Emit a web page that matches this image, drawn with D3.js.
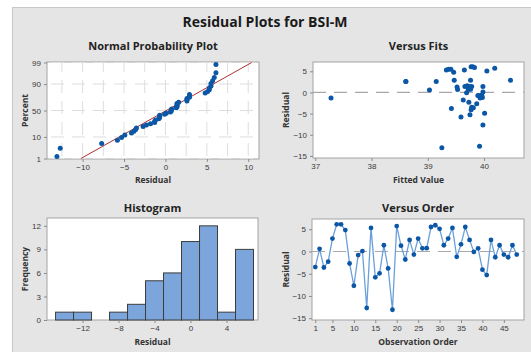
<!DOCTYPE html>
<html>
<head>
<meta charset="utf-8">
<script src="https://cdn.jsdelivr.net/npm/d3@7"></script>
<style>
body { margin: 0; background: #fff; }
svg { display: block; font-family: "Open Sans", sans-serif; }
.tick text { font-size: 8px; fill: #3a3a3a; }
.tick line { stroke: #8c8c8c; }
.ptitle { font-size: 11px; font-weight: 700; fill: #222; }
.alabel { font-size: 8.5px; font-weight: 700; fill: #333; }
</style>
</head>
<body>
<svg id="chart" width="531" height="352"></svg>
<script>
// residuals in observation order, and the fitted value of each observation
var residuals = [-3.5, 0.6, -3.6, -2.3, 2.9, 6.1, 6.1, 4.8, -2.7, -7.7, -0.8, 0.1,
   -12.7, 5.3, -5.8, -4.9, 1.4, -3.8, -13.1, 5.7, 1.3, -1.8, 2.6, -0.7,
   2.9, 0.7, 0.75, 5.5, 5.9, 5.1, 1.4, 2.9, 5.3, -1.2, 1.6, 5.5,
   2.6, -0.1, 0.7, -4.1, -5.3, 2.6, -1.3, 1.4, -0.7, -1.3, 1.4, -0.7];
var fitted = [39.78, 39.03, 39.81, 39.73, 39.76, 39.77, 39.80, 39.46, 39.87, 39.98, 39.91, 39.98,
   39.92, 39.65, 39.59, 40.01, 39.98, 39.42, 39.25, 40.19, 39.52, 39.63, 38.61, 39.94,
   39.47, 39.53, 39.76, 39.37, 39.83, 40.05, 39.66, 40.47, 39.33, 39.97, 39.70, 39.41,
   38.61, 39.69, 39.72, 39.77, 39.75, 39.15, 37.28, 39.78, 39.89, 39.93, 39.74, 39.96];

var normXTicks = [-10, -5, 0, 5, 10];
var normXGrid = [-12.5, -10, -7.5, -5, -2.5, 0, 2.5, 5, 7.5, 10];
var normPctTicks = [1, 10, 50, 90, 99];
var histEdges = [-15, -13, -11, -9, -7, -5, -3, -1, 1, 3, 5, 7];
var histXTicks = [-12, -8, -4, 0, 4];
var histYTicks = [0, 3, 6, 9, 12];
var fitXTicks = [37, 38, 39, 40];
var resTicks = [5, 0, -5, -10, -15];
var orderTicks = [1, 5, 10, 15, 20, 25, 30, 35, 40, 45];

var dotColor = "#0b57a6";

// inverse of the normal cdf (Acklam)
function probit(p) {
   var a = [-39.69683028665376, 220.9460984245205, -275.9285104469687, 138.357751867269, -30.66479806614716, 2.506628277459239];
   var b = [-54.47609879822406, 161.5858368580409, -155.6989798598866, 66.80131188771972, -13.28068155288572];
   var c = [-0.007784894002430293, -0.3223964580411365, -2.400758277161838, -2.549732539343734, 4.374664141464968, 2.938163982698783];
   var d = [0.007784695709041462, 0.3224671290700398, 2.445134137142996, 3.754408661907416];
   var q, r;
   if (p < 0.02425) {
      q = Math.sqrt(-2 * Math.log(p));
      return (((((c[0] * q + c[1]) * q + c[2]) * q + c[3]) * q + c[4]) * q + c[5]) /
         ((((d[0] * q + d[1]) * q + d[2]) * q + d[3]) * q + 1);
   }
   if (p > 1 - 0.02425) return -probit(1 - p);
   q = p - 0.5; r = q * q;
   return (((((a[0] * r + a[1]) * r + a[2]) * r + a[3]) * r + a[4]) * r + a[5]) * q /
      (((((b[0] * r + b[1]) * r + b[2]) * r + b[3]) * r + b[4]) * r + 1);
}

var svg = d3.select("#chart");

// gray backdrop
svg.append("rect")
   .attr("x", 12.5).attr("y", 7.5)
   .attr("width", 530).attr("height", 360)
   .attr("fill", "#e5e5e5").attr("stroke", "#c8c8c8");

svg.append("text")
   .attr("x", 265).attr("y", 27)
   .attr("text-anchor", "middle")
   .style("font-size", "14px").style("font-weight", 700).style("fill", "#1a1a1a")
   .text("Residual Plots for BSI-M");

function panel(x, y, title, xlab, ylab, titleY, xlabY, ylabX) {
   var r = x.range(), t = y.range();
   var g = svg.append("g");
   g.append("rect")
      .attr("x", r[0]).attr("y", t[1])
      .attr("width", r[1] - r[0]).attr("height", t[0] - t[1])
      .attr("fill", "#fff").attr("stroke", "#a3a3a3");
   g.append("text").attr("class", "ptitle")
      .attr("x", (r[0] + r[1]) / 2).attr("y", titleY)
      .attr("text-anchor", "middle").text(title);
   g.append("text").attr("class", "alabel")
      .attr("x", (r[0] + r[1]) / 2).attr("y", xlabY)
      .attr("text-anchor", "middle").text(xlab);
   g.append("text").attr("class", "alabel")
      .attr("transform", "translate(" + ylabX + "," + (t[0] + t[1]) / 2 + ") rotate(-90)")
      .attr("text-anchor", "middle").text(ylab);
   return g;
}

function axes(g, xAxis, yAxis, x, y) {
   g.append("g").attr("transform", "translate(0," + y.range()[0] + ")")
      .call(xAxis.tickSize(3).tickSizeOuter(0).tickPadding(2))
      .call(function (s) { s.select(".domain").remove(); });
   g.append("g").attr("transform", "translate(" + x.range()[0] + ",0)")
      .call(yAxis.tickSize(3).tickSizeOuter(0).tickPadding(3))
      .call(function (s) { s.select(".domain").remove(); });
}

// ---------- Normal Probability Plot ----------
var nx = d3.scaleLinear().domain([-14.3, 11.3]).range([47, 259]);
var ny = d3.scaleLinear().domain([-2.35, 2.35]).range([159, 62]);
var g1 = panel(nx, ny, "Normal Probability Plot", "Residual", "Percent", 50, 183, 28);

g1.selectAll("line.vg").data(normXGrid).enter().append("line")
   .attr("x1", nx).attr("x2", nx).attr("y1", 62).attr("y2", 159)
   .attr("stroke", "#dedede").attr("stroke-dasharray", "13,8").attr("stroke-dashoffset", 3);
g1.selectAll("line.hg").data(normPctTicks).enter().append("line")
   .attr("x1", 47).attr("x2", 259)
   .attr("y1", function (d) { return ny(probit(d / 100)); })
   .attr("y2", function (d) { return ny(probit(d / 100)); })
   .attr("stroke", "#dedede").attr("stroke-dasharray", "13,8").attr("stroke-dashoffset", -4);

axes(g1,
   d3.axisBottom(nx).tickValues(normXTicks),
   d3.axisLeft(ny).tickValues(normPctTicks.map(function (p) { return probit(p / 100); }))
      .tickFormat(function (z, i) { return normPctTicks[i]; }),
   nx, ny);

var sorted = residuals.slice().sort(d3.ascending);
var n = sorted.length;
var mu = d3.mean(residuals), sd = d3.deviation(residuals);
var zLo = probit(0.01), zHi = probit(0.99);
g1.append("line")
   .attr("x1", nx(mu + zLo * sd)).attr("y1", ny(zLo))
   .attr("x2", nx(mu + zHi * sd)).attr("y2", ny(zHi))
   .attr("stroke", "#b0302f").attr("stroke-width", 1);
g1.selectAll("circle").data(sorted).enter().append("circle")
   .attr("cx", function (d) { return nx(d); })
   .attr("cy", function (d, i) { return ny(probit((i + 1 - 0.375) / (n + 0.25))); })
   .attr("r", 2.5).attr("fill", dotColor);

// ---------- Versus Fits ----------
var fx = d3.scaleLinear().domain([36.96, 40.71]).range([313, 524]);
var fy = d3.scaleLinear().domain([-15.5, 7.2]).range([158, 62]);
var g2 = panel(fx, fy, "Versus Fits", "Fitted Value", "Residual", 50, 183, 289);
axes(g2, d3.axisBottom(fx).tickValues(fitXTicks).tickFormat(d3.format("d")),
   d3.axisLeft(fy).tickValues(resTicks), fx, fy);
g2.append("line")
   .attr("x1", 313).attr("x2", 524).attr("y1", fy(0)).attr("y2", fy(0))
   .attr("stroke", "#a8a8a8").attr("stroke-width", 1.2).attr("stroke-dasharray", "13,8");
g2.selectAll("circle").data(residuals).enter().append("circle")
   .attr("cx", function (d, i) { return fx(fitted[i]); })
   .attr("cy", function (d) { return fy(d); })
   .attr("r", 2.5).attr("fill", dotColor);

// ---------- Histogram ----------
var hx = d3.scaleLinear().domain([-15.95, 7.5]).range([47, 258]);
var hy = d3.scaleLinear().domain([0, 13]).range([320, 218]);
var g3 = panel(hx, hy, "Histogram", "Residual", "Frequency", 212, 345, 28);
var bins = d3.bin().domain([histEdges[0], histEdges[histEdges.length - 1]])
   .thresholds(histEdges.slice(1, -1))(residuals);
g3.selectAll("rect.bar").data(bins.filter(function (b) { return b.length > 0; })).enter().append("rect")
   .attr("class", "bar")
   .attr("x", function (b) { return hx(b.x0); })
   .attr("y", function (b) { return hy(b.length); })
   .attr("width", function (b) { return hx(b.x1) - hx(b.x0); })
   .attr("height", function (b) { return hy(0) - hy(b.length); })
   .attr("fill", "#7ba5db").attr("stroke", "#3d3d3d").attr("stroke-width", 1);
axes(g3, d3.axisBottom(hx).tickValues(histXTicks), d3.axisLeft(hy).tickValues(histYTicks), hx, hy);

// ---------- Versus Order ----------
var ox = d3.scaleLinear().domain([0.23, 49.7]).range([312, 524]);
var oy = d3.scaleLinear().domain([-15.4, 7.3]).range([320, 219]);
var g4 = panel(ox, oy, "Versus Order", "Observation Order", "Residual", 212, 345, 289);
axes(g4, d3.axisBottom(ox).tickValues(orderTicks), d3.axisLeft(oy).tickValues(resTicks), ox, oy);
g4.append("line")
   .attr("x1", 312).attr("x2", 524).attr("y1", oy(0)).attr("y2", oy(0))
   .attr("stroke", "#a8a8a8").attr("stroke-width", 1.2).attr("stroke-dasharray", "13,8");
g4.append("path")
   .datum(residuals)
   .attr("fill", "none").attr("stroke", "#6a9fdb").attr("stroke-width", 1.3)
   .attr("d", d3.line().x(function (d, i) { return ox(i + 1); }).y(function (d) { return oy(d); }));
g4.selectAll("circle").data(residuals).enter().append("circle")
   .attr("cx", function (d, i) { return ox(i + 1); })
   .attr("cy", function (d) { return oy(d); })
   .attr("r", 2.4).attr("fill", dotColor);
</script>
</body>
</html>
